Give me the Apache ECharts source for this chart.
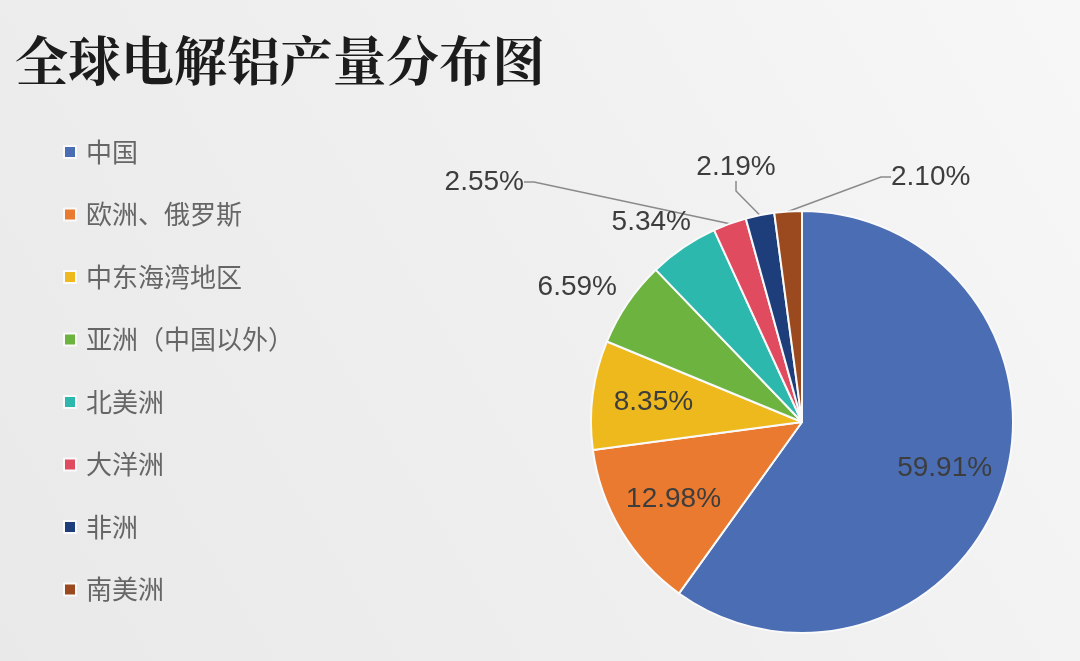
<!DOCTYPE html>
<html><head><meta charset="utf-8">
<script src="https://cdn.jsdelivr.net/npm/echarts@6/dist/echarts.min.js"></script>
<style>html,body{margin:0;padding:0;background:#eeeeee;} #main{width:1080px;height:661px;}</style>
</head><body><div id="main"></div>
<script>
const categories = ['中国', '欧洲、俄罗斯', '中东海湾地区', '亚洲（中国以外）', '北美洲', '大洋洲', '非洲', '南美洲'];
const shares = [59.91, 12.98, 8.35, 6.59, 5.34, 2.55, 2.19, 2.10];
const colors = ['#4a6db3', '#ea7a2f', '#eeb91c', '#6cb33f', '#2db8ad', '#e04b5f', '#1d3e7b', '#9b4a1f'];
const titleText = '全球电解铝产量分布图';

const CX = 802, CY = 422, R = 211;
const total = shares.reduce((a, b) => a + b, 0);
function midAngle(i) {
  const before = shares.slice(0, i).reduce((a, b) => a + b, 0);
  return (before + shares[i] / 2) / total * 2 * Math.PI;
}
const outsideSpots = {
  3: { x: 617, y: 287, align: 'right' },
  4: { x: 691, y: 222, align: 'right' },
  5: { x: 524, y: 182, align: 'right' },
  6: { x: 736, y: 167, align: 'center' },
  7: { x: 891, y: 177, align: 'left' }
};

const chart = echarts.init(document.getElementById('main'), null, { renderer: 'canvas' });
chart.setOption({
  backgroundColor: {
    type: 'linear', x: 0, y: 1, x2: 1, y2: 0,
    colorStops: [{ offset: 0, color: '#e9e9e9' }, { offset: 0.5, color: '#efefef' }, { offset: 1, color: '#f7f7f7' }]
  },
  color: colors,
  title: {
    text: titleText, left: 15, top: 34, padding: 0,
    textStyle: { fontFamily: '"Noto Serif CJK SC", "Noto Sans CJK SC", serif', fontSize: 53, fontWeight: 'bold', color: '#1c1c1c' }
  },
  legend: {
    orient: 'vertical', left: 63, top: 139, padding: 0,
    icon: 'rect', itemWidth: 12, itemHeight: 12, itemGap: 36.5,
    data: categories,
    textStyle: { fontFamily: '"Noto Sans CJK SC", sans-serif', fontSize: 26, lineHeight: 26, color: '#666', padding: [0, 0, 0, 5] }
  },
  series: [{
    type: 'pie',
    center: [CX, CY],
    radius: [0, R],
    startAngle: 90,
    clockwise: true,
    avoidLabelOverlap: false,
    itemStyle: { borderColor: '#fafafa', borderWidth: 2 },
    label: {
      formatter: p => p.value.toFixed(2) + '%',
      fontFamily: '"Liberation Sans", Arial, sans-serif',
      fontSize: 28, color: '#3d3d3d'
    },
    labelLine: { lineStyle: { color: '#8a8a8a', width: 1.5 }, length: 20, length2: 10 },
    labelLayout: function (p) {
      const i = p.dataIndex;
      if (i <= 2) {
        const a = midAngle(i);
        const k = 0.71 * R;
        return { x: CX + k * Math.sin(a), y: CY - k * Math.cos(a), align: 'center', verticalAlign: 'middle' };
      }
      const s = outsideSpots[i];
      return { x: s.x, y: s.y, align: s.align, verticalAlign: 'middle' };
    },
    data: categories.map((name, i) => ({
      name: name,
      value: shares[i],
      label: { position: i <= 2 ? 'inside' : 'outside' },
      labelLine: { show: i >= 5 }
    }))
  }]
});
</script></body></html>
